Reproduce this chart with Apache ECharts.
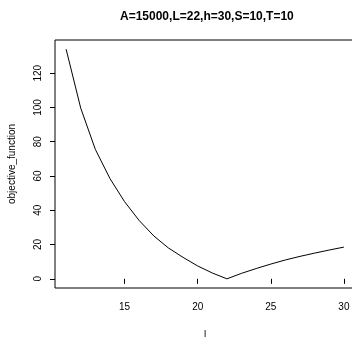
<!DOCTYPE html>
<html>
<head>
<meta charset="utf-8">
<script src="https://cdn.jsdelivr.net/npm/echarts@6/dist/echarts.min.js"></script>
<style>
html,body{margin:0;padding:0;background:#fff;}
#chart{width:352px;height:337px;}
</style>
</head>
<body>
<div id="chart"></div>
<script>
var titleText = "A=15000,L=22,h=30,S=10,T=10";
var xName = "l";
var yName = "objective_function";
var lValues = [11,12,13,14,15,16,17,18,19,20,21,22,23,24,25,26,27,28,29,30];
var objValues = [134,99.6,75.5,58.5,45,34,25,18,12.5,7.5,3.4,0,3.2,6,8.6,11,13.1,15,16.8,18.5];
var xTicks = [15,20,25,30];
var yTicks = [0,20,40,60,80,100,120];

var font = "Liberation Sans, Arial, Helvetica, sans-serif";
var chart = echarts.init(document.getElementById('chart'), null, {renderer:'canvas'});
var data = lValues.map(function(v,i){return [v, objValues[i]];});
var xmin = 11 - 0.04*19, xmax = 30 + 0.04*19;
var ymin = 0 - 0.04*134, ymax = 134 + 0.04*134;
chart.setOption({
  animation:false,
  backgroundColor:'#fff',
  title:{text:titleText,left:115,top:6,textStyle:{fontFamily:font,fontSize:12,fontWeight:'bold',color:'#000'}},
  grid:{left:55,top:40,width:300,height:248,outerBoundsMode:'none',containLabel:false,show:true,borderColor:'#000',borderWidth:1,backgroundColor:'transparent'},
  xAxis:{type:'value',min:xmin,max:xmax,name:xName,nameLocation:'middle',nameGap:42,
    nameTextStyle:{fontFamily:font,fontSize:10,color:'#000'},
    axisLine:{show:false},splitLine:{show:false},
    axisTick:{show:true,inside:false,length:5,customValues:xTicks,lineStyle:{color:'#000'}},
    axisLabel:{customValues:xTicks,margin:14,fontFamily:font,fontSize:10,color:'#000'}},
  yAxis:{type:'value',min:ymin,max:ymax,name:yName,nameLocation:'middle',nameGap:38,
    nameTextStyle:{fontFamily:font,fontSize:10,color:'#000'},
    axisLine:{show:false},splitLine:{show:false},
    axisTick:{show:true,inside:false,length:5,customValues:yTicks,lineStyle:{color:'#000'}},
    axisLabel:{customValues:yTicks,rotate:90,margin:12,fontFamily:font,fontSize:10,color:'#000'}},
  series:[{type:'line',data:data,showSymbol:false,symbol:'none',lineStyle:{color:'#000',width:1}}]
});
</script>
</body>
</html>
